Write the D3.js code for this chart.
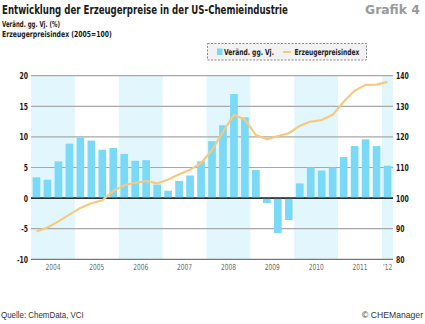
<!DOCTYPE html>
<html>
<head>
<meta charset="utf-8">
<script src="https://cdn.jsdelivr.net/npm/d3@7"></script>
<style>
  body { margin: 0; background: #fff; }
  svg { display: block; font-family: "DejaVu Sans Condensed", "DejaVu Sans", sans-serif; }
</style>
</head>
<body>
<svg id="chart" width="425" height="324"></svg>
<script>
// quarterly series, 2004 Q1 .. 2012 Q1
const years = ['2004', '2005', '2006', '2007', '2008', '2009', '2010', '2011', '2012']
const yearLabels = ['2004', '2005', '2006', '2007', '2008', '2009', '2010', '2011', '\u201912']
const changeYoY = [
    3.4, 3.0, 6.0, 8.9,
    9.9, 9.4, 7.9, 8.2,
    7.2, 6.1, 6.2, 2.2,
    1.2, 2.8, 3.7, 6.0,
    9.3, 11.9, 17.0, 13.2,
    4.6, -0.8, -5.7, -3.6,
    2.4, 5.0, 4.5, 5.0,
    6.7, 8.5, 9.6, 8.5,
    5.3
]
const priceIndex = [
    89.1, 90.4, 92.4, 94.6,
    96.8, 98.3, 99.3, 102.3,
    104.2, 105.0, 105.6, 104.8,
    106.1, 107.8, 109.3, 111.4,
    115.7, 121.7, 127.2, 125.6,
    120.6, 119.2, 120.3, 121.2,
    123.6, 125.0, 125.5, 127.2,
    131.5, 135.1, 137.0, 137.1,
    138.0
]
const leftTicks = [-10, -5, 0, 5, 10, 15, 20]
const rightTicks = [80, 90, 100, 110, 120, 130, 140]

const svg = d3.select('#chart')
const x0 = 31, x1 = 393
const yTop = 75.7, yBot = 259.3

// squeeze a text horizontally around its anchor point
function squeeze(node, f) {
    const el = d3.select(node)
    const tx = +el.attr('x') || 0, ty = +el.attr('y') || 0
    el.attr('x', 0).attr('y', 0)
        .attr('transform', `translate(${tx},${ty}) scale(${f},1)`)
}
function condense(sel, f) {
    sel.each(function () { squeeze(this, f) })
}
function fitWidth(sel, w) {
    sel.each(function () { squeeze(this, w / this.getComputedTextLength()) })
}

const quarters = changeYoY.map((d, i) => i)
const x = d3.scaleBand().domain(quarters).range([x0, x1]).paddingInner(0.3).paddingOuter(0.15)
const qw = (x1 - x0) / quarters.length
const yL = d3.scaleLinear().domain([-10, 20]).range([yBot, yTop])
const yR = d3.scaleLinear().domain([80, 140]).range([yBot, yTop])

const yearSpan = i => {
    const start = x0 + i * 4 * qw
    return [start, Math.min(x1, start + 4 * qw)]
}

// shaded year bands (every other year)
years.forEach((yr, i) => {
    if (i % 2 !== 0) return
    const [s, e] = yearSpan(i)
    svg.append('rect')
        .attr('x', s).attr('y', yTop)
        .attr('width', e - s).attr('height', yBot - yTop)
        .attr('fill', '#e2f7fd')
})

// grid
svg.append('g').selectAll('line').data(leftTicks).enter().append('line')
    .attr('x1', x0).attr('x2', x1)
    .attr('y1', d => yL(d)).attr('y2', d => yL(d))
    .attr('stroke', d => d === 0 ? '#222' : (d === -10 ? '#777' : '#a8a8a8'))
    .attr('stroke-width', d => d === 0 ? 1.3 : 1.2)

// bars
svg.append('g').selectAll('rect').data(changeYoY).enter().append('rect')
    .attr('x', (d, i) => x(i))
    .attr('width', x.bandwidth())
    .attr('y', d => yL(Math.max(0, d)))
    .attr('height', d => Math.abs(yL(d) - yL(0)))
    .attr('fill', '#79d9f7')

// zero line on top of bars
svg.append('line')
    .attr('x1', x0).attr('x2', x1)
    .attr('y1', yL(0)).attr('y2', yL(0))
    .attr('stroke', '#222').attr('stroke-width', 1.3)

// index line
const line = d3.line()
    .x((d, i) => x(i) + x.bandwidth() / 2)
    .y(d => yR(d))
svg.append('path')
    .datum(priceIndex)
    .attr('d', line)
    .attr('fill', 'none')
    .attr('stroke', '#f7c97f')
    .attr('stroke-width', 2.2)
    .attr('stroke-linejoin', 'round')

// left axis labels
svg.append('g').selectAll('text').data(leftTicks).enter().append('text')
    .attr('x', 28).attr('y', d => yL(d) + 3.4)
    .attr('text-anchor', 'end')
    .attr('font-size', 9.5).attr('font-weight', 'bold').attr('fill', '#1a1a1a')
    .text(d => d)
    .call(condense, 0.72)

// right axis labels
svg.append('g').selectAll('text').data(rightTicks).enter().append('text')
    .attr('x', 396).attr('y', d => yR(d) + 3.4)
    .attr('font-size', 9.5).attr('font-weight', 'bold').attr('fill', '#1a1a1a')
    .text(d => d)
    .call(condense, 0.72)

// year labels
svg.append('g').selectAll('text').data(yearLabels).enter().append('text')
    .attr('x', (d, i) => d3.mean(yearSpan(i)))
    .attr('y', 270)
    .attr('text-anchor', 'middle')
    .attr('font-size', 8.4).attr('fill', '#6a6a6a')
    .text(d => d)
    .call(condense, 0.78)

// titles
svg.append('text').attr('x', 2).attr('y', 14)
    .attr('font-size', 12.8).attr('font-weight', 'bold').attr('fill', '#1a1a1a')
    .text('Entwicklung der Erzeugerpreise in der US-Chemieindustrie')
    .call(fitWidth, 286)
svg.append('text').attr('x', 365).attr('y', 14)
    .attr('font-size', 12.8).attr('font-weight', 'bold').attr('fill', '#9a9a9a')
    .text('Grafik 4')
    .call(fitWidth, 55)
svg.append('text').attr('x', 2).attr('y', 27)
    .attr('font-size', 8.3).attr('font-weight', 'bold').attr('fill', '#1a1a1a')
    .text('Veränd. gg. Vj. (%)')
    .call(fitWidth, 58)
svg.append('text').attr('x', 2).attr('y', 37)
    .attr('font-size', 8.3).attr('font-weight', 'bold').attr('fill', '#1a1a1a')
    .text('Erzeugerpreisindex (2005=100)')
    .call(fitWidth, 110)

// legend
const lg = svg.append('g')
lg.append('rect')
    .attr('x', 207.5).attr('y', 43.5).attr('width', 159).attr('height', 16.5)
    .attr('fill', '#f2f2f2').attr('stroke', '#888').attr('stroke-dasharray', '2,1.5')
lg.append('rect').attr('x', 217).attr('y', 48.5).attr('width', 5.5).attr('height', 6.5).attr('fill', '#79d9f7')
lg.append('text').attr('x', 224).attr('y', 55.3)
    .attr('font-size', 8.3).attr('font-weight', 'bold').attr('fill', '#1a1a1a')
    .text('Veränd. gg. Vj.')
    .call(fitWidth, 50)
lg.append('line').attr('x1', 283).attr('x2', 291).attr('y1', 52).attr('y2', 52)
    .attr('stroke', '#f7c97f').attr('stroke-width', 2)
lg.append('text').attr('x', 294.5).attr('y', 55.3)
    .attr('font-size', 8.3).attr('font-weight', 'bold').attr('fill', '#1a1a1a')
    .text('Erzeugerpreisindex')
    .call(fitWidth, 65)

// footer
svg.append('text').attr('x', 1).attr('y', 318)
    .attr('font-size', 9.3).attr('fill', '#333')
    .style('font-family', '"Liberation Sans", "DejaVu Sans", sans-serif')
    .text('Quelle: ChemData, VCI')
    .call(fitWidth, 83)
svg.append('text').attr('x', 423).attr('y', 318).attr('text-anchor', 'end')
    .attr('font-size', 9.3).attr('fill', '#333')
    .style('font-family', '"Liberation Sans", "DejaVu Sans", sans-serif')
    .text('© CHEManager')
    .call(fitWidth, 61)
</script>
</body>
</html>
